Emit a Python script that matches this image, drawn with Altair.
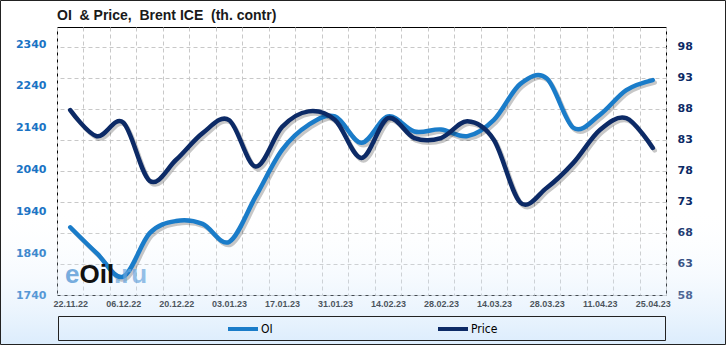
import json
import altair as alt
import pandas as pd

title_text = "OI\u00a0 & Price,\u00a0 Brent ICE\u00a0 (th. contr)"

dates = ["22.11.22", "29.11.22", "06.12.22", "13.12.22", "20.12.22", "27.12.22",
         "03.01.23", "10.01.23", "17.01.23", "24.01.23", "31.01.23", "07.02.23",
         "14.02.23", "21.02.23", "28.02.23", "07.03.23", "14.03.23", "21.03.23",
         "28.03.23", "04.04.23", "11.04.23", "18.04.23", "25.04.23"]
oi = [1902, 1840, 1784, 1888, 1917, 1910, 1867, 1975, 2087, 2147, 2167, 2104,
      2167, 2131, 2136, 2120, 2159, 2245, 2258, 2140, 2171, 2230, 2254]
price = [87.8, 83.6, 85.8, 76.4, 79.8, 84.1, 86.2, 78.7, 85.1, 87.6, 86.2, 80.1,
         86.5, 83.3, 83.3, 86.0, 83.0, 72.9, 75.3, 79.3, 84.6, 86.5, 81.7]

series_names = ["OI", "Price"]
series_colors = ["#1a7cc9", "#0c2a66"]
left_ticks = [1740, 1840, 1940, 2040, 2140, 2240, 2340]
right_ticks = [58, 63, 68, 73, 78, 83, 88, 93, 98]
shown_dates = dates[::2]
watermark_parts = ["e", "Oil", ".ru"]

W, H = 609, 268

oi_df = pd.DataFrame({"date": dates, "value": oi, "series": series_names[0]})
pr_df = pd.DataFrame({"date": dates, "value": price, "series": series_names[1]})
one_row = pd.DataFrame({"k": [0]})

label_expr = ("indexof(" + json.dumps(shown_dates).replace('"', "'")
              + ", datum.value) >= 0 ? datum.label : ''")

x_enc = alt.X(
    "date:O", sort=dates,
    scale=alt.Scale(type="band", domain=dates, paddingInner=0, paddingOuter=0),
    axis=alt.Axis(title=None, tickBand="extent", grid=True, gridDash=[4, 3],
                  gridColor="#c8c8c8", ticks=False, domain=False, labelAngle=0,
                  labelOverlap=False, labelExpr=label_expr,
                  labelFont="Liberation Sans", labelFontWeight="bold",
                  labelFontSize=9, labelColor="#000000", labelPadding=4),
)

y_left = alt.Y(
    "value:Q",
    scale=alt.Scale(domain=[1740, 2381], nice=False, zero=False),
    axis=alt.Axis(orient="left", values=left_ticks, format="d", grid=False, ticks=False,
                  domain=False, title=None, labelColor="#1a73c4",
                  labelFont="DejaVu Sans", labelFontWeight="bold",
                  labelFontSize=11, labelPadding=11),
)
y_right = alt.Y(
    "value:Q",
    scale=alt.Scale(domain=[58, 101.2], nice=False, zero=False),
    axis=alt.Axis(orient="right", values=right_ticks, format="d", grid=True, gridDash=[4, 3],
                  gridColor="#c8c8c8", ticks=False, domain=False, title=None,
                  labelColor="#0c2a66", labelFont="DejaVu Sans",
                  labelFontWeight="bold", labelFontSize=11, labelPadding=11),
)

legend_font = "Liberation Sans Narrow, DejaVu Sans Condensed, Arial Narrow, Liberation Sans, sans-serif"

color_enc = alt.Color(
    "series:N",
    scale=alt.Scale(domain=series_names, range=series_colors),
    legend=alt.Legend(title=None, orient="none", legendX=169, legendY=285,
                      direction="horizontal", symbolType="stroke",
                      symbolStrokeWidth=4, symbolSize=900, padding=0,
                      labelFont=legend_font, labelFontSize=12,
                      labelColor="#000000", columnPadding=157, labelOffset=1),
)

line_kw = dict(interpolate="cardinal", strokeWidth=4.5, strokeCap="round",
               strokeJoin="round")


def series_layer(df, y_enc):
    base = alt.Chart(df)
    shadow = base.mark_line(color="#000000", opacity=0.22, xOffset=2, yOffset=2.5,
                            **line_kw).encode(x=x_enc, y=y_enc)
    main = base.mark_line(**line_kw).encode(x=x_enc, y=y_enc, color=color_enc)
    return alt.layer(shadow, main)


gradient = alt.LinearGradient(
    gradient="linear", x1=0, x2=0, y1=0, y2=1,
    stops=[alt.GradientStop(offset=0, color="rgba(255,255,255,0)"),
           alt.GradientStop(offset=0.6, color="rgba(255,255,255,0)"),
           alt.GradientStop(offset=1, color="rgba(185,218,250,0.5)")],
)

bg = alt.Chart(one_row).mark_rect(fill=gradient, stroke="#222222", strokeWidth=1).encode(
    x=alt.value(-56.5), x2=alt.value(668.5), y=alt.value(-26.5), y2=alt.value(317.5))

legend_box = alt.Chart(one_row).mark_rect(fillOpacity=0, stroke="#222222", strokeWidth=1).encode(
    x=alt.value(1.5), x2=alt.value(608.5), y=alt.value(289.5), y2=alt.value(313.5))

title_mark = alt.Chart(one_row).mark_text(
    font="Liberation Sans", fontSize=14, fontWeight="bold", color="#1a1a1a",
    align="left", baseline="alphabetic").encode(
    x=alt.value(0), y=alt.value(-7), text=alt.value(title_text))

wm_font = dict(font="Liberation Sans", fontSize=26, fontWeight="bold", align="left",
               baseline="alphabetic")
wm1 = alt.Chart(one_row).mark_text(color="#4d93d3", opacity=0.75, **wm_font).encode(
    x=alt.value(8), y=alt.value(256), text=alt.value(watermark_parts[0]))
wm2 = alt.Chart(one_row).mark_text(color="#111111", **wm_font).encode(
    x=alt.value(22.5), y=alt.value(256), text=alt.value(watermark_parts[1]))
wm3 = alt.Chart(one_row).mark_text(color="#6aa6dd", opacity=0.7, **wm_font).encode(
    x=alt.value(57), y=alt.value(256), text=alt.value(watermark_parts[2]))

chart = alt.layer(
    bg,
    series_layer(oi_df, y_left),
    series_layer(pr_df, y_right),
    legend_box, title_mark, wm1, wm2, wm3,
).resolve_scale(y="independent").properties(
    width=W, height=H,
    padding={"left": 57, "top": 27, "right": 60, "bottom": 50},
    autosize=alt.AutoSizeParams(type="none"),
    background="#ffffff",
).configure_view(stroke="#000000", strokeWidth=1)

chart.save("out.html", embed_options={"renderer": "svg", "actions": False})
